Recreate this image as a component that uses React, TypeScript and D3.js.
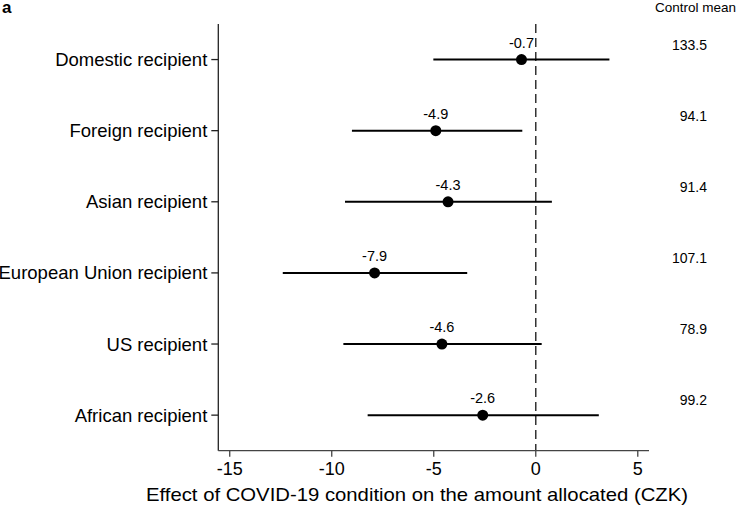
import React from "react";
import * as d3 from "d3";

const categories = [
  "Domestic recipient",
  "Foreign recipient",
  "Asian recipient",
  "European Union recipient",
  "US recipient",
  "African recipient",
];
const estimates = [-0.7, -4.9, -4.3, -7.9, -4.6, -2.6];
const ciLow = [-5.02, -9.01, -9.35, -12.4, -9.43, -8.24];
const ciHigh = [3.61, -0.66, 0.79, -3.36, 0.29, 3.09];
const controlMeans = ["133.5", "94.1", "91.4", "107.1", "78.9", "99.2"];
const xTicks = [-15, -10, -5, 0, 5];

const W = 738;
const H = 510;
const FONT = "'Liberation Sans', Arial, Helvetica, sans-serif";

export default function App() {
  const x = d3.scaleLinear().domain([-15.56, 5.55]).range([218.3, 649]);
  const y = d3
    .scalePoint<string>()
    .domain(categories)
    .range([24, 450.7])
    .padding(0.5);
  const top = 24;
  const bottom = 450.7;
  const left = x.range()[0];
  const right = x.range()[1];

  return (
    <svg
      width={W}
      height={H}
      style={{ position: "absolute", left: 0, top: 0, background: "#fff" }}
      fontFamily={FONT}
    >
      <rect x={0} y={0} width={W} height={H} fill="#fff" />
      <text x={2} y={13} fontSize={17} fontWeight="bold" fill="#000">
        a
      </text>
      <text x={736} y={12} fontSize={13.5} textAnchor="end" fill="#000">
        Control mean
      </text>

      {/* zero reference line */}
      <line
        x1={x(0)}
        x2={x(0)}
        y1={top}
        y2={bottom}
        stroke="#333"
        strokeWidth={1.5}
        strokeDasharray="9,5"
      />

      {/* axes */}
      <line x1={left} x2={left} y1={top} y2={bottom} stroke="#222" strokeWidth={1.3} />
      <line x1={left} x2={right} y1={bottom} y2={bottom} stroke="#444" strokeWidth={1.3} />
      {xTicks.map((t) => (
        <g key={t}>
          <line x1={x(t)} x2={x(t)} y1={bottom} y2={bottom + 6} stroke="#444" strokeWidth={1.3} />
          <text x={x(t)} y={475} fontSize={18} textAnchor="middle" fill="#000">
            {t}
          </text>
        </g>
      ))}
      <text
        x={417}
        y={501}
        fontSize={18.5}
        textAnchor="middle"
        textLength={542}
        lengthAdjust="spacingAndGlyphs"
        fill="#000"
      >
        Effect of COVID-19 condition on the amount allocated (CZK)
      </text>

      {categories.map((c, i) => {
        const cy = y(c) as number;
        return (
          <g key={c}>
            <line x1={left - 7} x2={left} y1={cy} y2={cy} stroke="#222" strokeWidth={1.3} />
            <text x={left - 11} y={cy + 6.5} fontSize={18.5} textAnchor="end" fill="#000">
              {c}
            </text>
            <line
              x1={x(ciLow[i])}
              x2={x(ciHigh[i])}
              y1={cy}
              y2={cy}
              stroke="#000"
              strokeWidth={2}
            />
            <circle cx={x(estimates[i])} cy={cy} r={5.5} fill="#000" />
            <text
              x={x(estimates[i])}
              y={cy - 12}
              fontSize={14.5}
              textAnchor="middle"
              fill="#000"
            >
              {estimates[i].toFixed(1)}
            </text>
            <text x={707} y={cy - 10} fontSize={14} textAnchor="end" fill="#000">
              {controlMeans[i]}
            </text>
          </g>
        );
      })}
    </svg>
  );
}
